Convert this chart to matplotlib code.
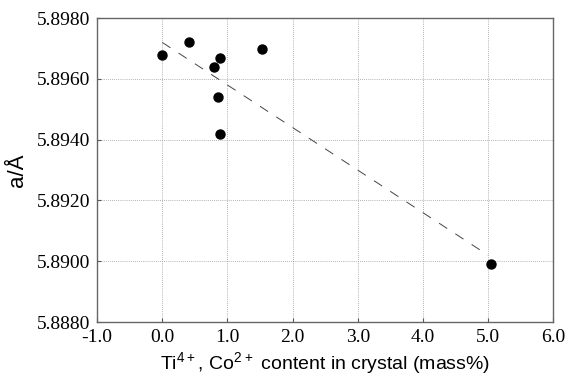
import matplotlib.pyplot as plt

plt.rcParams['mathtext.fontset'] = 'custom'
plt.rcParams['mathtext.rm'] = 'Liberation Sans'

# measured points
content = [0.0, 0.41, 0.79, 0.88, 0.86, 0.89, 1.53, 5.04]
lattice = [5.8968, 5.8972, 5.8964, 5.8967, 5.8954, 5.8942, 5.8970, 5.8899]

# dashed trend line (end points)
fit_x = [0.0, 5.0]
fit_y = [5.8972, 5.8902]

xticks = [-1.0, 0.0, 1.0, 2.0, 3.0, 4.0, 5.0, 6.0]
yticks = [5.8880, 5.8900, 5.8920, 5.8940, 5.8960, 5.8980]

fig = plt.figure(figsize=(5.68, 3.78), dpi=100)
ax = fig.add_axes([0.171, 0.148, 0.803, 0.804])

ax.plot(fit_x, fit_y, linestyle=(0, (10, 10)), color='#444444', linewidth=0.7)
ax.scatter(content, lattice, s=42, color='black', zorder=3)

ax.set_xlim(-1.0, 6.0)
ax.set_ylim(5.8880, 5.8980)
ax.set_xticks(xticks)
ax.set_yticks(yticks)
ax.set_xticklabels(['%.1f' % v for v in xticks], family='Liberation Serif', fontsize=14)
ax.set_yticklabels(['%.4f' % v for v in yticks], family='Liberation Serif', fontsize=14)
ax.tick_params(direction='in', length=3, width=0.8, color='#555555', pad=5)

ax.grid(True, linestyle=(0, (1, 1.5)), color='#999999', linewidth=0.6)
for s in ax.spines.values():
    s.set_color('#666666')
    s.set_linewidth(1.0)

ax.set_xlabel(r'Ti$^{\mathrm{4+}}$, Co$^{\mathrm{2+}}$ content in crystal (mass%)',
              family='Liberation Sans', fontsize=14, labelpad=3)
ax.set_ylabel('a/Å', family='Liberation Sans', fontsize=16, labelpad=6)

fig.savefig('out.png', dpi=100)
